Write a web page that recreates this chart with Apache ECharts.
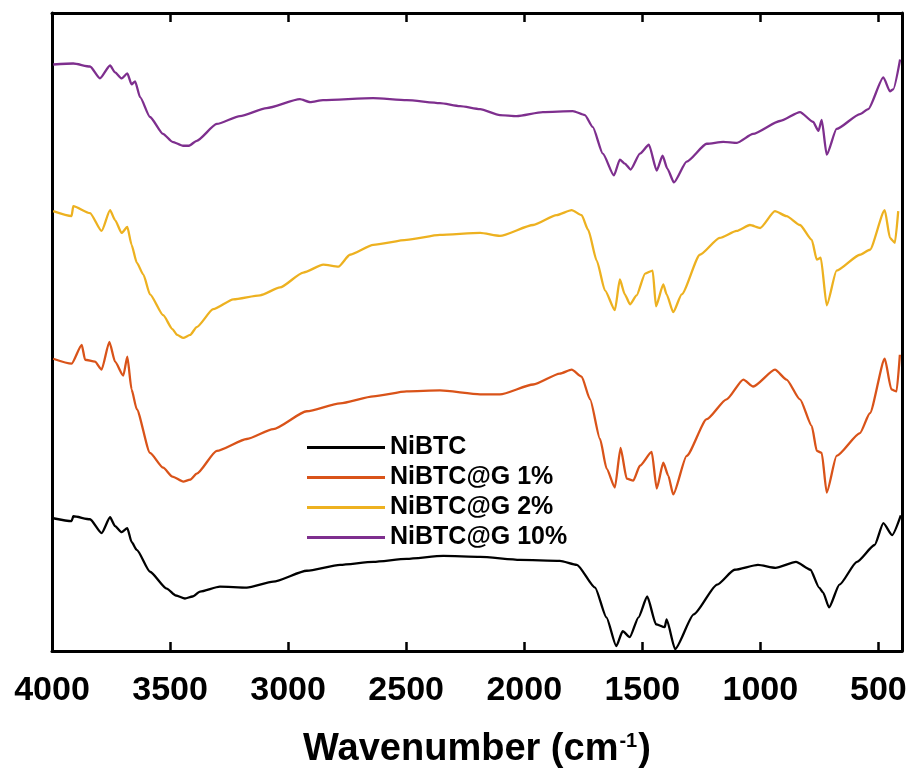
<!DOCTYPE html>
<html><head><meta charset="utf-8">
<script src="https://cdn.jsdelivr.net/npm/echarts@6/dist/echarts.min.js"></script>
<style>html,body{margin:0;padding:0;background:#fff}#c{width:911px;height:774px}</style>
</head><body><div id="c"></div>
<script>
const seriesNames = ['NiBTC', 'NiBTC@G 1%', 'NiBTC@G 2%', 'NiBTC@G 10%'];
const seriesColors = ['#000000', '#D95319', '#EDB120', '#7E2F8E'];
const tickValues = [500, 1000, 1500, 2000, 2500, 3000, 3500, 4000];

const nibtcWn = [3995,3917,3910,3839,3790,3754,3733,3705,3681,3663,3641,3585,3514,3475,3437,3405,3373,3289,3175,3063,2921,2780,2639,2498,2343,2187,2018,1849,1777,1700,1652,1610,1583,1553,1516,1479,1442,1405,1397,1361,1282,1183,1109,1010,936,849,788,751,734,709,665,591,516,479,442,405];
const nibtcVal = [134,131,136,133,119,135,126,120,124,110,102,80,63,56,53,55,60,65,64,70,81,87,90,93,96,95,92,91,87,64,34,5,20,14,34,55,27,24,32,2,37,67,82,87,84,90,82,64,59,44,67,90,107,129,117,137];

const g1Wn = [3995,3917,3874,3860,3818,3790,3757,3733,3698,3681,3663,3641,3585,3529,3490,3444,3415,3387,3302,3175,3063,2921,2780,2639,2498,2357,2187,2103,1962,1849,1799,1757,1721,1679,1651,1616,1592,1566,1538,1510,1460,1439,1411,1390,1369,1312,1227,1143,1072,1030,938,889,832,782,761,740,719,677,578,536,473,445,423,409];
const g1Val = [295,290,309,294,292,284,312,292,278,297,264,244,200,185,176,171,173,179,202,214,224,242,250,257,262,263,259,259,269,280,284,277,254,214,184,165,205,174,172,187,201,164,190,177,158,197,234,254,274,267,284,274,254,227,202,200,160,197,220,240,295,264,262,299];

const g2Wn = [3995,3917,3910,3839,3790,3754,3733,3705,3681,3663,3641,3613,3585,3529,3490,3470,3444,3415,3387,3317,3232,3119,3034,2936,2851,2787,2738,2639,2498,2357,2187,2103,1962,1863,1799,1757,1729,1693,1658,1616,1595,1574,1552,1524,1488,1456,1442,1411,1397,1369,1333,1256,1172,1100,1044,1001,938,889,832,782,761,744,719,677,578,536,473,451,430,416];
const g2Val = [444,439,449,442,424,445,435,422,428,410,392,380,360,339,325,319,316,319,327,345,355,359,367,382,390,388,400,410,415,420,422,419,430,440,445,440,425,394,364,344,375,360,350,359,381,384,348,370,360,342,360,400,417,424,430,427,444,439,430,415,395,397,349,384,400,405,445,417,412,444];

const g10Wn = [3995,3910,3839,3797,3754,3733,3705,3681,3663,3648,3627,3585,3530,3490,3445,3420,3387,3302,3204,3091,2950,2907,2852,2640,2498,2357,2272,2187,2103,2032,1921,1794,1743,1710,1667,1620,1595,1574,1549,1510,1472,1439,1414,1394,1366,1312,1227,1157,1099,1031,917,832,776,754,740,719,677,578,543,479,451,437,408];
const g10Val = [592,593,590,578,591,584,578,583,572,575,559,539,522,514,510,510,515,532,540,548,557,554,556,558,556,553,550,547,541,540,544,545,541,529,502,480,496,492,486,502,511,485,500,487,473,494,512,514,513,522,535,544,534,525,536,501,527,542,547,579,565,567,597];

const wnLists = [nibtcWn, g1Wn, g2Wn, g10Wn];
const valLists = [nibtcVal, g1Val, g2Val, g10Val];

const FONT = 'Liberation Sans, Arial, sans-serif';
const chart = echarts.init(document.getElementById('c'), null, {renderer: 'canvas'});

const axisLine = {show: true, onZero: false, lineStyle: {color: '#000', width: 3}};
const tick = {show: true, inside: true, length: 9, lineStyle: {color: '#000', width: 2.5}, customValues: tickValues};

chart.setOption({
  animation: false,
  backgroundColor: '#fff',
  grid: {left: 52, right: 9, top: 13, bottom: 116, containLabel: false},
  legend: {
    orient: 'vertical', left: 302, top: 430,
    itemWidth: 78, itemHeight: 3, itemGap: 5, icon: 'rect',
    data: seriesNames,
    textStyle: {fontSize: 25, fontWeight: 'bold', color: '#000', fontFamily: FONT, lineHeight: 25}
  },
  xAxis: [{
    type: 'value', min: 400, max: 4000, inverse: true, position: 'bottom',
    axisLine: axisLine, axisTick: tick, splitLine: {show: false},
    axisLabel: {customValues: tickValues, formatter: v => String(v), fontSize: 34, fontWeight: 'bold', color: '#000', fontFamily: FONT, margin: 23},
    name: '{a|Wavenumber (cm}{s|-1}{a|)}',
    nameLocation: 'middle', nameGap: 80,
    nameTextStyle: {
      rich: {
        a: {fontSize: 38, fontWeight: 'bold', color: '#000', fontFamily: FONT},
        s: {fontSize: 20, fontWeight: 'bold', color: '#000', fontFamily: FONT, verticalAlign: 'top', padding: [0, 1, 0, 1]}
      }
    }
  }, {
    type: 'value', min: 400, max: 4000, inverse: true, position: 'top',
    axisLine: axisLine, axisTick: tick, splitLine: {show: false},
    axisLabel: {show: false}
  }],
  yAxis: [{
    type: 'value', min: 0, max: 644, position: 'left',
    axisLine: axisLine, axisTick: {show: false}, axisLabel: {show: false}, splitLine: {show: false}
  }, {
    type: 'value', min: 0, max: 644, position: 'right',
    axisLine: axisLine, axisTick: {show: false}, axisLabel: {show: false}, splitLine: {show: false}
  }],
  series: seriesNames.map((n, k) => ({
    name: n, type: 'line', xAxisIndex: 0, yAxisIndex: 0,
    symbol: 'none', smooth: 0.2, smoothMonotone: 'x',
    lineStyle: {color: seriesColors[k], width: 2.3},
    itemStyle: {color: seriesColors[k]},
    data: wnLists[k].map((w, i) => [w, valLists[k][i]])
  }))
});
</script>
</body></html>
